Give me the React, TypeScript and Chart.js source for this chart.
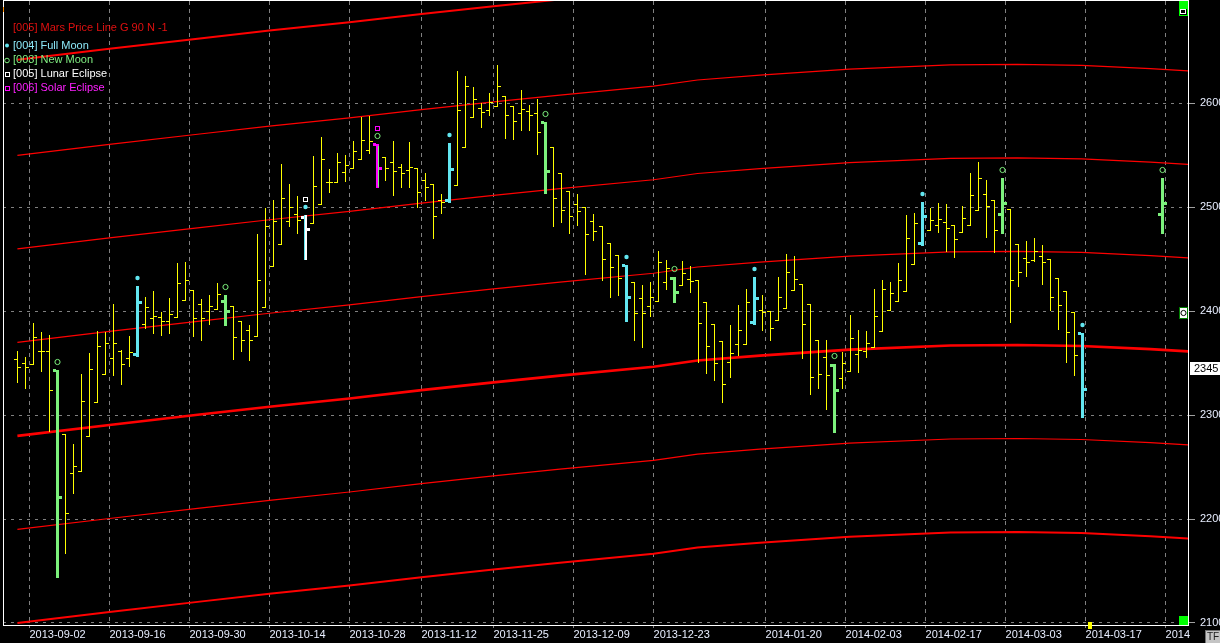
import React, { useEffect, useRef } from "react";
import { Chart, registerables } from "chart.js";

Chart.register(...registerables);

const FONT = '"Liberation Sans", Arial, Helvetica, sans-serif';

// ---- OHLC data (bar index 0..143; 134..142 are empty future slots) ----
const opens: (number | null)[] = [
  2353.6, 2349.8, 2348.8, 2361.3, 2361.3, 2343.3, 2281.4, 2243.9, 2246.4, 2280.1,
  2312.2, 2339.2, 2354.6, 2361.3, 2354.6, 2358.4, 2388.0, 2393.1, 2394.0, 2390.2,
  2394.0, 2410.4, 2420.0, 2406.5, 2399.8, 2401.7, 2409.7, 2404.6, 2390.2, 2381.5,
  2376.3, 2403.7, 2443.1, 2464.3, 2486.4, 2493.2, 2490.3, 2484.5, 2502.8, 2524.0,
  2524.0, 2533.6, 2537.4, 2546.1, 2554.8, 2560.5, 2548.0, 2543.2, 2538.4, 2535.5,
  2537.4, 2525.9, 2522.0, 2506.6, 2506.6, 2521.1, 2557.7, 2586.5, 2595.2, 2593.3,
  2597.1, 2606.7, 2597.1, 2590.4, 2592.3, 2590.4, 2582.0, 2557.7, 2532.6, 2515.3,
  2502.8, 2499.9, 2486.4, 2481.6, 2465.3, 2453.7, 2444.1, 2427.7, 2412.3, 2404.6,
  2409.4, 2427.7, 2431.6, 2424.8, 2430.6, 2429.6, 2408.5, 2387.3, 2370.9, 2350.7,
  2368.0, 2368.0, 2389.2, 2400.8, 2399.8, 2391.1, 2402.7, 2420.0, 2425.8, 2406.5,
  2371.9, 2355.5, 2347.8, 2335.3, 2342.1, 2358.4, 2361.3, 2365.2, 2380.6, 2400.8,
  2409.4, 2419.1, 2445.0, 2465.3, 2477.8, 2482.6, 2485.5, 2482.6, 2475.8, 2482.6,
  2497.0, 2512.4, 2506.6, 2493.2, 2498.0, 2464.3, 2450.8, 2448.9, 2452.7, 2449.9,
  2431.6, 2419.1, 2398.8, 2379.2,
  null, null, null, null, null, null, null, null, null,
  2493.2,
];
const highs: (number | null)[] = [
  2361.6, 2355.8, 2388.5, 2379.9, 2377.0, 2343.3, 2281.4, 2272.1, 2339.5, 2359.7,
  2380.8, 2380.2, 2406.8, 2362.6, 2376.0, 2424.4, 2413.6, 2419.3, 2399.1, 2412.6,
  2446.3, 2447.3, 2420.0, 2411.6, 2415.5, 2426.8, 2415.5, 2404.6, 2390.2, 2386.6,
  2474.2, 2498.9, 2506.9, 2541.6, 2522.3, 2510.5, 2492.5, 2549.3, 2567.6, 2536.5,
  2551.9, 2550.0, 2563.4, 2586.5, 2587.8, 2560.5, 2548.0, 2563.7, 2541.6, 2562.8,
  2537.4, 2532.6, 2522.0, 2512.4, 2561.8, 2631.1, 2626.3, 2615.7, 2600.0, 2609.6,
  2636.9, 2606.7, 2597.1, 2612.5, 2598.1, 2603.9, 2582.0, 2557.7, 2532.6, 2515.3,
  2512.4, 2499.9, 2493.2, 2481.6, 2465.3, 2453.7, 2444.1, 2427.7, 2424.8, 2427.7,
  2457.6, 2448.9, 2432.5, 2447.9, 2443.1, 2429.6, 2408.5, 2387.3, 2370.9, 2386.3,
  2405.6, 2421.0, 2432.5, 2415.2, 2399.8, 2432.5, 2454.7, 2452.7, 2425.8, 2406.5,
  2371.9, 2371.9, 2348.8, 2360.3, 2396.0, 2381.5, 2380.6, 2421.0, 2429.6, 2427.7,
  2446.0, 2492.2, 2494.1, 2504.7, 2498.9, 2503.8, 2502.8, 2482.6, 2500.9, 2532.6,
  2543.2, 2525.9, 2506.6, 2527.8, 2498.0, 2464.3, 2467.2, 2470.1, 2463.3, 2449.9,
  2431.6, 2419.1, 2398.8, 2379.2,
  null, null, null, null, null, null, null, null, null,
  2527.8,
];
const lows: (number | null)[] = [
  2332.0, 2326.3, 2348.8, 2342.6, 2284.9, 2144.4, 2166.9, 2225.2, 2246.4, 2280.1,
  2312.2, 2339.2, 2338.5, 2330.1, 2347.4, 2356.8, 2383.4, 2379.2, 2377.3, 2379.2,
  2394.0, 2410.4, 2376.3, 2372.5, 2387.3, 2401.7, 2386.6, 2354.2, 2361.9, 2353.2,
  2376.3, 2403.7, 2443.1, 2464.3, 2481.9, 2475.5, 2450.1, 2484.5, 2502.8, 2514.9,
  2524.0, 2525.2, 2537.4, 2546.1, 2551.9, 2519.2, 2526.2, 2511.7, 2519.7, 2519.7,
  2500.5, 2506.9, 2470.6, 2494.7, 2504.7, 2521.1, 2557.7, 2586.5, 2577.5, 2588.5,
  2597.1, 2566.9, 2565.9, 2574.6, 2574.6, 2551.5, 2513.4, 2482.2, 2486.0, 2475.5,
  2483.2, 2436.0, 2468.7, 2430.2, 2413.9, 2415.8, 2390.2, 2372.5, 2365.7, 2395.0,
  2409.4, 2421.0, 2408.5, 2424.8, 2418.1, 2351.3, 2340.7, 2334.0, 2312.5, 2336.9,
  2357.5, 2368.0, 2387.3, 2381.5, 2371.9, 2391.1, 2402.7, 2420.0, 2354.6, 2319.9,
  2325.7, 2305.5, 2283.9, 2325.7, 2342.1, 2341.1, 2355.5, 2365.2, 2380.6, 2400.8,
  2409.4, 2419.1, 2445.0, 2463.3, 2477.8, 2475.8, 2457.6, 2452.4, 2475.8, 2482.6,
  2497.0, 2471.6, 2457.2, 2474.9, 2389.8, 2424.4, 2433.5, 2447.9, 2426.4, 2401.3,
  2383.1, 2351.3, 2338.8, 2297.8,
  null, null, null, null, null, null, null, null, null,
  2474.9,
];
const closes: (number | null)[] = [
  2345.9, 2346.7, 2374.8, 2361.3, 2323.8, 2220.8, 2205.4, 2250.9, 2313.2, 2344.0,
  2366.1, 2369.0, 2369.0, 2348.8, 2360.3, 2408.5, 2403.7, 2395.3, 2390.2, 2396.9,
  2426.8, 2429.6, 2393.1, 2393.1, 2404.6, 2416.2, 2399.8, 2374.8, 2371.9, 2371.9,
  2429.6, 2481.6, 2486.4, 2508.6, 2499.9, 2487.4, 2478.7, 2520.1, 2546.1, 2524.0,
  2543.2, 2540.3, 2553.8, 2564.4, 2563.4, 2537.4, 2537.4, 2534.6, 2532.6, 2538.4,
  2514.3, 2519.2, 2491.2, 2504.7, 2536.5, 2593.3, 2616.4, 2603.9, 2591.3, 2601.0,
  2616.4, 2588.5, 2582.7, 2594.2, 2588.5, 2572.1, 2534.6, 2508.6, 2497.0, 2491.2,
  2496.1, 2473.9, 2476.8, 2449.9, 2442.2, 2431.6, 2413.3, 2397.9, 2397.9, 2413.3,
  2447.0, 2441.2, 2418.1, 2436.4, 2428.7, 2388.3, 2366.1, 2350.3, 2329.5, 2359.4,
  2381.5, 2408.5, 2412.3, 2398.8, 2383.4, 2413.3, 2437.3, 2430.6, 2387.3, 2336.3,
  2339.2, 2338.2, 2323.8, 2349.8, 2373.8, 2362.3, 2369.0, 2395.0, 2421.0, 2417.1,
  2429.6, 2470.1, 2484.5, 2491.2, 2487.4, 2488.4, 2479.7, 2469.1, 2489.3, 2511.5,
  2527.8, 2500.9, 2477.8, 2503.8, 2429.6, 2437.3, 2447.0, 2457.6, 2447.0, 2413.3,
  2405.6, 2379.6, 2357.5, 2324.7,
  null, null, null, null, null, null, null, null, null,
  2503.8,
];

// ---- astro events (bar indices) ----
const fullMoonBars = [15, 36, 54, 76, 92, 113, 133];
const newMoonBars = [5, 26, 45, 66, 82, 102, 123, 143];
const lunarEclipseBars = [36];
const solarEclipseBars = [45];

// ---- Mars price lines (G 90 harmonics) ----
const marsX = [0, 11.5, 22.8, 31.5, 41.5, 50.5, 59.5, 67.8, 79.5, 85, 92.8, 104, 116.6, 125, 133, 141.6, 147];
const marsP360 = [2642, 2652.5, 2662.5, 2670, 2678, 2686, 2693.5, 2700, 2708.5, 2714.5, 2719.2, 2725, 2729, 2729.5, 2728.5, 2725.5, 2723];
const marsP270 = [2550, 2560.5, 2570.5, 2578, 2586, 2594, 2601.5, 2608, 2616.5, 2622.5, 2627.2, 2633, 2637, 2637.5, 2636.5, 2633.5, 2631];
const marsP180 = [2460, 2470.5, 2480.5, 2488, 2496, 2504, 2511.5, 2518, 2526.5, 2532.5, 2537.2, 2543, 2547, 2547.5, 2546.5, 2543.5, 2541];
const marsP90 = [2370, 2380.5, 2390.5, 2398, 2406, 2414, 2421.5, 2428, 2436.5, 2442.5, 2447.2, 2453, 2457, 2457.5, 2456.5, 2453.5, 2451];
const marsBase = [2280, 2290.5, 2300.5, 2308, 2316, 2324, 2331.5, 2338, 2346.5, 2352.5, 2357.2, 2363, 2367, 2367.5, 2366.5, 2363.5, 2361];
const marsM90 = [2190, 2200.5, 2210.5, 2218, 2226, 2234, 2241.5, 2248, 2256.5, 2262.5, 2267.2, 2273, 2277, 2277.5, 2276.5, 2273.5, 2271];
const marsM180 = [2100, 2110.5, 2120.5, 2128, 2136, 2144, 2151.5, 2158, 2166.5, 2172.5, 2177.2, 2183, 2187, 2187.5, 2186.5, 2183.5, 2181];

// ---- axes ----
const dateTickIdx = [1.5, 11.5, 21.5, 31.5, 41.5, 50.5, 59.5, 69.5, 79.5, 93.5, 103.5, 113.5, 123.5, 133.5, 143.5];
const dateTickLabels = [
  "2013-09-02", "2013-09-16", "2013-09-30", "2013-10-14", "2013-10-28", "2013-11-12", "2013-11-25",
  "2013-12-09", "2013-12-23", "2014-01-20", "2014-02-03", "2014-02-17", "2014-03-03", "2014-03-17", "2014",
];
const priceTicks = [2100, 2200, 2300, 2400, 2500, 2600];
const lastPrice = 2345;
const lastDataBar = 133;

const legendLabels = [
  "[005] Mars Price Line G 90 N -1",
  "[004] Full Moon",
  "[003] New Moon",
  "[005] Lunar Eclipse",
  "[006] Solar Eclipse",
];

const YELLOW = "#ffff00";
const CYAN = "#62e6f0";
const GREEN = "#7cf07c";
const MAGENTA = "#ff00ff";
const WHITE = "#ffffff";
const RED = "#ff0000";

const ohlcPlugin = {
  id: "ohlc",
  afterDatasetsDraw(chart: any) {
    const { ctx, chartArea: a, scales } = chart;
    const xs = scales.x;
    const ys = scales.y;
    ctx.save();
    ctx.beginPath();
    ctx.rect(a.left, a.top, a.right - a.left, a.bottom - a.top);
    ctx.clip();
    for (let i = 0; i < highs.length; i++) {
      const h = highs[i], l = lows[i], o = opens[i], c = closes[i];
      if (h == null || l == null || o == null || c == null) continue;
      const x = Math.round(xs.getPixelForValue(i));
      const yh = Math.round(ys.getPixelForValue(h));
      const yl = Math.round(ys.getPixelForValue(l));
      const yo = Math.round(ys.getPixelForValue(o));
      const yc = Math.round(ys.getPixelForValue(c));
      const isFull = fullMoonBars.includes(i);
      const isNew = newMoonBars.includes(i);
      const isLunar = lunarEclipseBars.includes(i);
      const isSolar = solarEclipseBars.includes(i);
      if (!isFull && !isNew && !isLunar && !isSolar) {
        ctx.fillStyle = YELLOW;
        ctx.fillRect(x, yh, 1, yl - yh + 1);
        ctx.fillRect(x - 3, yo, 3, 1);
        ctx.fillRect(x + 1, yc, 3, 1);
        continue;
      }
      const main = isSolar ? MAGENTA : isLunar ? WHITE : isFull ? CYAN : GREEN;
      ctx.fillStyle = main;
      ctx.fillRect(x - 1, yh, 3, yl - yh + 1);
      ctx.fillRect(x - 4, yo - 1, 3, 3);
      ctx.fillRect(x + 2, yc - 1, 3, 3);
      if (isLunar) {
        ctx.fillStyle = CYAN;
        ctx.fillRect(x - 1, yh, 1, yl - yh + 1);
      }
      if (isSolar) {
        ctx.fillStyle = GREEN;
        ctx.fillRect(x + 1, yh + 2, 1, yl - yh - 2);
      }
      // markers above the high
      if (isFull) {
        ctx.fillStyle = CYAN;
        ctx.beginPath();
        ctx.arc(x + 0.5, yh - 8, 2.2, 0, Math.PI * 2);
        ctx.fill();
      }
      if (isNew) {
        ctx.strokeStyle = GREEN;
        ctx.lineWidth = 1;
        ctx.beginPath();
        ctx.arc(x + 0.5, yh - 8, 2.6, 0, Math.PI * 2);
        ctx.stroke();
      }
      if (isLunar || isSolar) {
        ctx.strokeStyle = isLunar ? WHITE : MAGENTA;
        ctx.lineWidth = 1;
        ctx.strokeRect(x - 1.5, yh - 17.5, 4, 4);
      }
    }
    ctx.restore();
  },
};

const decorPlugin = {
  id: "decor",
  afterDraw(chart: any) {
    const { ctx, chartArea: a, scales } = chart;
    const xs = scales.x;
    const ys = scales.y;
    ctx.save();
    // frame
    ctx.strokeStyle = "#ffffff";
    ctx.lineWidth = 1;
    ctx.strokeRect(a.left + 0.5, a.top - 0.5, a.right - a.left, a.bottom - a.top + 1);
    ctx.fillStyle = "#ff8c00";
    ctx.fillRect(a.left, 7, 1, 5);

    // legend
    ctx.font = `11px ${FONT}`;
    ctx.textBaseline = "middle";
    ctx.textAlign = "left";
    const lx = a.left + 10;
    ctx.fillStyle = "#e01010";
    ctx.fillText(legendLabels[0], lx, 28);
    ctx.fillStyle = "#8ce8f8";
    ctx.fillText(legendLabels[1], lx, 46);
    ctx.fillStyle = "#80ee80";
    ctx.fillText(legendLabels[2], lx, 60);
    ctx.fillStyle = "#ffffff";
    ctx.fillText(legendLabels[3], lx, 74);
    ctx.fillStyle = "#ff20ff";
    ctx.fillText(legendLabels[4], lx, 88);
    // legend markers
    ctx.fillStyle = CYAN;
    ctx.beginPath();
    ctx.arc(7, 45.5, 2, 0, Math.PI * 2);
    ctx.fill();
    ctx.strokeStyle = GREEN;
    ctx.beginPath();
    ctx.arc(7, 60.5, 2.3, 0, Math.PI * 2);
    ctx.stroke();
    ctx.strokeStyle = WHITE;
    ctx.strokeRect(5.5, 72.5, 4, 4);
    ctx.strokeStyle = MAGENTA;
    ctx.strokeRect(5.5, 86.5, 4, 4);

    // right side widgets
    const y2400 = Math.round(ys.getPixelForValue(2400));
    ctx.fillStyle = "#008000";
    ctx.fillRect(a.right - 9, y2400 - 4, 9, 12);
    ctx.fillStyle = "#ffffff";
    ctx.fillRect(a.right - 8, y2400 - 3, 7, 10);
    ctx.strokeStyle = "#000000";
    ctx.beginPath();
    ctx.arc(a.right - 4.5, y2400 + 2, 2.6, 0, Math.PI * 2);
    ctx.stroke();

    ctx.fillStyle = "#00ff00";
    ctx.fillRect(a.right - 9, 1, 9, 15);
    ctx.fillStyle = "#000000";
    ctx.fillRect(a.right - 8, 9, 7, 6);
    ctx.strokeStyle = "#ffffff";
    ctx.strokeRect(a.right - 7.5, 9.5, 5, 4);
    ctx.fillStyle = "#00ff00";
    ctx.fillRect(a.right - 9, a.bottom - 9, 9, 9);

    const yLast = Math.round(ys.getPixelForValue(lastPrice));
    ctx.fillStyle = "#ffffff";
    ctx.fillRect(a.right + 2, yLast - 6, 32, 13);
    ctx.fillStyle = "#000000";
    ctx.font = `11px ${FONT}`;
    ctx.fillText(String(lastPrice), a.right + 6, yLast + 0.5);

    const xm = Math.round(xs.getPixelForValue(lastDataBar)) + 6;
    ctx.fillStyle = YELLOW;
    ctx.fillRect(xm, a.bottom - 3, 4, 7);

    ctx.fillStyle = "#c4c4c4";
    ctx.fillRect(1205, 630, 15, 13);
    ctx.strokeStyle = "#707070";
    ctx.strokeRect(1205.5, 630.5, 15, 13);
    ctx.fillStyle = "#202020";
    ctx.font = `10px ${FONT}`;
    ctx.fillText("TF", 1207, 637);
    ctx.restore();
  },
};

export default function App() {
  const ref = useRef<HTMLCanvasElement>(null);

  useEffect(() => {
    const canvas = ref.current;
    if (!canvas) return;
    const lineSpecs = [
      { data: marsP360, width: 2 },
      { data: marsP270, width: 1.2 },
      { data: marsP180, width: 1.2 },
      { data: marsP90, width: 1.2 },
      { data: marsBase, width: 2.6 },
      { data: marsM90, width: 1.2 },
      { data: marsM180, width: 2 },
    ];
    const chart = new Chart(canvas, {
      type: "line",
      data: {
        datasets: lineSpecs.map((s, k) => ({
          label: "Mars " + k,
          data: marsX.map((x, i) => ({ x, y: s.data[i] })),
          borderColor: RED,
          borderWidth: s.width,
          pointRadius: 0,
          tension: 0,
          fill: false,
        })),
      },
      options: {
        animation: false,
        responsive: false,
        maintainAspectRatio: false,
        devicePixelRatio: 1,
        layout: { padding: { left: 3, top: 1, right: 0, bottom: 0 } },
        plugins: {
          legend: { display: false },
          tooltip: { enabled: false },
        },
        scales: {
          x: {
            type: "linear",
            min: -1.8,
            max: 146.3,
            afterBuildTicks: (s: any) => {
              s.ticks = dateTickIdx.map((v) => ({ value: v }));
            },
            afterFit: (s: any) => {
              s.height = 18;
              s.paddingLeft = 0;
              s.paddingRight = 0;
            },
            ticks: {
              autoSkip: false,
              maxRotation: 0,
              minRotation: 0,
              align: "start",
              padding: 0,
              color: "#e8eeff",
              font: { family: FONT, size: 11 },
              callback: (_v: any, i: number) => dateTickLabels[i],
            },
            grid: {
              color: "#808080",
              lineWidth: 1,
              drawTicks: true,
              tickLength: 3,
              tickColor: "#808080",
            },
            border: { display: false, dash: [4, 4] },
          },
          y: {
            type: "linear",
            position: "right",
            min: 2098,
            max: 2698.5,
            afterBuildTicks: (s: any) => {
              s.ticks = priceTicks.map((v) => ({ value: v }));
            },
            afterFit: (s: any) => {
              s.width = 32;
              s.paddingTop = 0;
              s.paddingBottom = 0;
            },
            ticks: {
              padding: 5,
              color: "#e8eeff",
              font: { family: FONT, size: 11 },
              callback: (v: any) => String(v),
            },
            grid: {
              color: "#808080",
              lineWidth: 1,
              drawTicks: true,
              tickLength: 7,
              tickColor: "#a0a0a0",
            },
            border: { display: false, dash: [3, 5] },
          },
        },
      } as any,
      plugins: [ohlcPlugin, decorPlugin],
    });
    return () => chart.destroy();
  }, []);

  return (
    <div
      style={{
        position: "fixed",
        left: 0,
        top: 0,
        width: 1220,
        height: 643,
        background: "#000",
        overflow: "hidden",
      }}
    >
      <canvas ref={ref} width={1220} height={643} style={{ display: "block", width: 1220, height: 643 }} />
    </div>
  );
}
